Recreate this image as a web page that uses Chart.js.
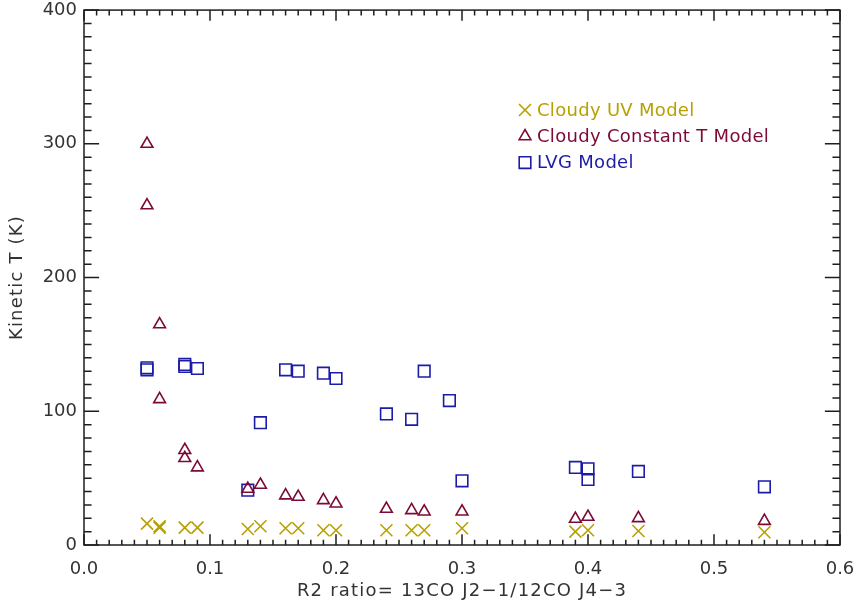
<!DOCTYPE html>
<html>
<head>
<meta charset="utf-8">
<title>Kinetic temperature vs R2 ratio</title>
<script src="https://cdn.jsdelivr.net/npm/chart.js@4/dist/chart.umd.min.js"></script>
<style>
  html, body { margin: 0; padding: 0; background: #ffffff; }
  #c { display: block; }
</style>
</head>
<body>
<canvas id="c" width="856" height="605"></canvas>
<script>
// R2 ratio (13CO J2-1 / 12CO J4-3) and kinetic temperature (K) per model
const uvRatio   = [0.05, 0.06, 0.06, 0.08, 0.09, 0.13, 0.14, 0.16, 0.17, 0.19, 0.20, 0.24, 0.26, 0.27, 0.30, 0.39, 0.40, 0.44, 0.54];
const uvTemp    = [16,   13,   14,   13,   13,   12,   14,   12.5, 12.5, 11,   11,   11,   11,   11,   12.5, 10,   11,   10.5, 9.5];

const constRatio = [0.05, 0.05, 0.06, 0.06, 0.08, 0.08, 0.09, 0.13, 0.14, 0.16, 0.17, 0.19, 0.20, 0.24, 0.26, 0.27, 0.30, 0.39, 0.40, 0.44, 0.54];
const constTemp  = [300,  254,  165,  109,  71,   65,   58,   42,   45,   37,   36,   33.5, 31,   27,   26,   25,   25,   19.5, 21,   20,   18];

const lvgRatio  = [0.05,  0.05, 0.08,  0.08, 0.09, 0.13, 0.14, 0.16, 0.17, 0.19,  0.20,  0.24, 0.26, 0.27, 0.29, 0.30, 0.39, 0.40, 0.40, 0.44, 0.54];
const lvgTemp   = [131,   132.5, 133.5, 135, 132,  41,   91.5, 131,  130,  128.5, 124.5, 98,   94,   130,  108,  48,   58,   57,   49,   55,   43.5];

// Axis ranges and tick spacing
const xTicks = { min: 0, max: 0.6, major: 0.1, minor: 0.01 };
const yTicks = { min: 0, max: 400, major: 100, minor: 10 };

const seriesNames = ['Cloudy UV Model', 'Cloudy Constant T Model', 'LVG Model'];
const xTitle = 'R2 ratio= 13CO J2\u22121/12CO J4\u22123';
const yTitle = 'Kinetic T (K)';

const COLORS = { uv: '#B8A000', constT: '#7C0A36', lvg: '#1C1CA6', axis: '#1e1e1e', text: '#333333' };
const FONT = 'DejaVu Sans';

function pairs(xs, ys) { return xs.map((v, i) => ({ x: v, y: ys[i] })); }

// Axis titles are drawn with slightly wider letter spacing
function spacedTitle(scale, spacing) {
  if (scale._spacedTitle) return;
  const base = scale.drawTitle;
  scale.drawTitle = function () {
    const ctx = this.ctx;
    ctx.save();
    ctx.letterSpacing = spacing;
    base.call(this);
    ctx.restore();
  };
  scale._spacedTitle = true;
}

// Boxed frame with inward major/minor ticks on all four sides
const frameTicks = {
  id: 'frameTicks',
  afterDraw(chart) {
    const { ctx, chartArea: a, scales: { x, y } } = chart;
    const w = a.right - a.left, h = a.bottom - a.top;
    const xLen = 0.02 * h, yLen = 0.02 * w;
    ctx.save();
    ctx.strokeStyle = COLORS.axis;
    ctx.lineWidth = 1.5;
    ctx.strokeRect(a.left, a.top, w, h);
    ctx.beginPath();
    const nx = Math.round((xTicks.max - xTicks.min) / xTicks.minor);
    const per = Math.round(xTicks.major / xTicks.minor);
    for (let i = 0; i <= nx; i++) {
      const px = x.getPixelForValue(xTicks.min + i * xTicks.minor);
      const len = i % per === 0 ? xLen : xLen / 2;
      ctx.moveTo(px, a.bottom); ctx.lineTo(px, a.bottom - len);
      ctx.moveTo(px, a.top);    ctx.lineTo(px, a.top + len);
    }
    const ny = Math.round((yTicks.max - yTicks.min) / yTicks.minor);
    const perY = Math.round(yTicks.major / yTicks.minor);
    for (let i = 0; i <= ny; i++) {
      const py = y.getPixelForValue(yTicks.min + i * yTicks.minor);
      const len = i % perY === 0 ? yLen : yLen / 2;
      ctx.moveTo(a.left, py);  ctx.lineTo(a.left + len, py);
      ctx.moveTo(a.right, py); ctx.lineTo(a.right - len, py);
    }
    ctx.stroke();
    ctx.restore();
  }
};

// Legend drawn inside the plot, text coloured like its series
const innerLegend = {
  id: 'innerLegend',
  afterDraw(chart) {
    const { ctx } = chart;
    const x0 = 525, y0 = 110, step = 26.3;
    ctx.save();
    ctx.font = '18px "' + FONT + '"';
    ctx.letterSpacing = '0.3px';
    ctx.textBaseline = 'middle';
    ctx.textAlign = 'left';
    chart.data.datasets.forEach((ds, i) => {
      const yy = y0 + i * step;
      ctx.strokeStyle = ds.borderColor;
      ctx.fillStyle = 'rgba(0,0,0,0)';
      ctx.lineWidth = ds.borderWidth;
      Chart.helpers.drawPoint(ctx, { pointStyle: ds.pointStyle, radius: ds.pointRadius, rotation: 0, borderWidth: ds.borderWidth }, x0, yy);
      ctx.fillStyle = ds.borderColor;
      ctx.fillText(ds.label, x0 + 12, yy + 1);
    });
    ctx.restore();
  }
};

Chart.defaults.font.family = FONT;
Chart.defaults.font.size = 18;
Chart.defaults.color = COLORS.text;

new Chart(document.getElementById('c'), {
  type: 'scatter',
  data: {
    datasets: [
      { label: seriesNames[0], data: pairs(uvRatio, uvTemp), pointStyle: 'crossRot', pointRadius: 8.5,
        borderColor: COLORS.uv, backgroundColor: 'rgba(0,0,0,0)', borderWidth: 1.6 },
      { label: seriesNames[1], data: pairs(constRatio, constTemp), pointStyle: 'triangle', pointRadius: 6.8,
        borderColor: COLORS.constT, backgroundColor: 'rgba(0,0,0,0)', borderWidth: 1.6 },
      { label: seriesNames[2], data: pairs(lvgRatio, lvgTemp), pointStyle: 'rect', pointRadius: 8.2,
        borderColor: COLORS.lvg, backgroundColor: 'rgba(0,0,0,0)', borderWidth: 1.6 }
    ]
  },
  options: {
    responsive: false,
    animation: false,
    layout: { padding: { top: 7, right: 16, left: 0, bottom: 0 } },
    plugins: { legend: { display: false }, tooltip: { enabled: false } },
    elements: { point: { hoverRadius: 8 } },
    scales: {
      x: {
        type: 'linear', position: 'bottom',
        min: xTicks.min, max: xTicks.max,
        grid: { display: false, drawTicks: false },
        border: { display: false },
        ticks: { stepSize: xTicks.major, padding: 14, maxRotation: 0, callback: v => v.toFixed(1) },
        title: { display: true, text: xTitle, padding: { top: 0, bottom: 3 }, font: { size: 18 } },
        afterFit(s) { s.height = 60; s.paddingLeft = 0; s.paddingRight = 0; spacedTitle(s, '1.2px'); }
      },
      y: {
        type: 'linear', position: 'left',
        min: yTicks.min, max: yTicks.max,
        grid: { display: false, drawTicks: false },
        border: { display: false },
        ticks: { stepSize: yTicks.major, padding: 7, callback: v => String(v) },
        title: { display: true, text: yTitle, padding: { top: 7, bottom: 0 }, font: { size: 18 } },
        afterFit(s) { s.width = 84; s.paddingTop = 0; s.paddingBottom = 0; spacedTitle(s, '1.2px'); }
      }
    }
  },
  plugins: [frameTicks, innerLegend]
});
</script>
</body>
</html>
